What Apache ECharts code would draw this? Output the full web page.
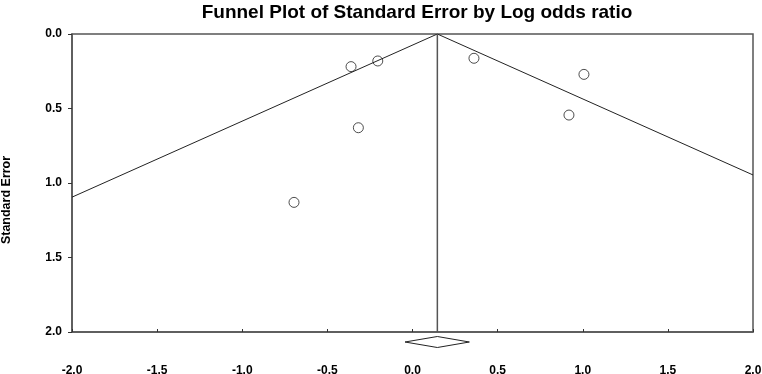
<!DOCTYPE html>
<html>
<head>
<meta charset="utf-8">
<script src="https://cdn.jsdelivr.net/npm/echarts@6/dist/echarts.min.js"></script>
<style>
  html, body { margin: 0; padding: 0; background: #fff; }
  #chart { width: 762px; height: 374px; }
</style>
</head>
<body>
<div id="chart"></div>
<script>
// study points: [log odds ratio, standard error]
const studies = [
  [-0.361, 0.219],
  [-0.204, 0.181],
  [-0.318, 0.629],
  [-0.696, 1.13],
  [0.361, 0.163],
  [1.007, 0.271],
  [0.919, 0.544],
];
// pooled estimate and its confidence interval
const pooled = 0.146;
const pooledLow = -0.044;
const pooledHigh = 0.334;
// funnel limits (pooled ± 1.96 SE) clipped at the plot edges
const funnelLeft = [[pooled, 0], [-2, 1.095]];
const funnelRight = [[pooled, 0], [2, 0.946]];
const centerLine = [[pooled, 0], [pooled, 2]];

const chart = echarts.init(document.getElementById("chart"));
const axisColor = "#555";
const font = "Liberation Sans, Arial, sans-serif";

chart.setOption({
  animation: false,
  title: {
    text: "Funnel Plot of Standard Error by Log odds ratio",
    left: 412,
    textAlign: "center",
    top: -2,
    textStyle: { fontFamily: font, fontSize: 19, fontWeight: "bold", color: "#000" },
  },
  grid: {
    left: 72, right: 9, top: 34, bottom: 42,
    outerBoundsMode: "none",
    containLabel: false,
    show: true, borderColor: axisColor, borderWidth: 1.5,
  },
  graphic: [{
    type: "text",
    x: 7,
    y: 200,
    rotation: Math.PI / 2,
    style: {
      text: "Standard Error",
      fontFamily: font, fontSize: 12.5, fontWeight: "bold", fill: "#000",
      align: "center", verticalAlign: "middle",
    },
  }],
  xAxis: {
    type: "value",
    min: -2, max: 2, interval: 0.5,
    axisLine: { onZero: false, lineStyle: { color: axisColor, width: 1.5 } },
    axisTick: { inside: true, length: 3, lineStyle: { color: "#333" } },
    axisLabel: {
      margin: 33, fontFamily: font, fontSize: 12, fontWeight: "bold", color: "#000",
      formatter: (v) => v.toFixed(1),
    },
    splitLine: { show: false },
  },
  yAxis: {
    type: "value",
    inverse: true,
    min: 0, max: 2, interval: 0.5,
    axisLine: { onZero: false, lineStyle: { color: axisColor, width: 1.5 } },
    axisTick: { length: 4, lineStyle: { color: "#333" } },
    axisLabel: {
      margin: 10, fontFamily: font, fontSize: 12, fontWeight: "bold", color: "#000",
      formatter: (v) => v.toFixed(1),
    },
    splitLine: { show: false },
  },
  series: [
    {
      type: "line", data: funnelLeft, symbol: "none",
      lineStyle: { color: "#222", width: 1 },
    },
    {
      type: "line", data: funnelRight, symbol: "none",
      lineStyle: { color: "#222", width: 1 },
    },
    {
      type: "line", data: centerLine, symbol: "none",
      lineStyle: { color: "#555", width: 1.5 },
    },
    {
      type: "scatter", data: studies, symbol: "circle", symbolSize: 10,
      itemStyle: { color: "#fff", borderColor: "#222", borderWidth: 1 },
    },
    {
      type: "custom",
      clip: false,
      data: [[pooled, pooledLow, pooledHigh]],
      renderItem: (params, api) => {
        const c = api.coord([api.value(0), 2]);
        const l = api.coord([api.value(1), 2]);
        const r = api.coord([api.value(2), 2]);
        const cy = c[1] + 10;
        return {
          type: "polygon",
          shape: { points: [[l[0], cy], [c[0], cy - 5.5], [r[0], cy], [c[0], cy + 5.5]] },
          style: { fill: "#fff", stroke: "#222", lineWidth: 1 },
        };
      },
    },
  ],
});
</script>
</body>
</html>
